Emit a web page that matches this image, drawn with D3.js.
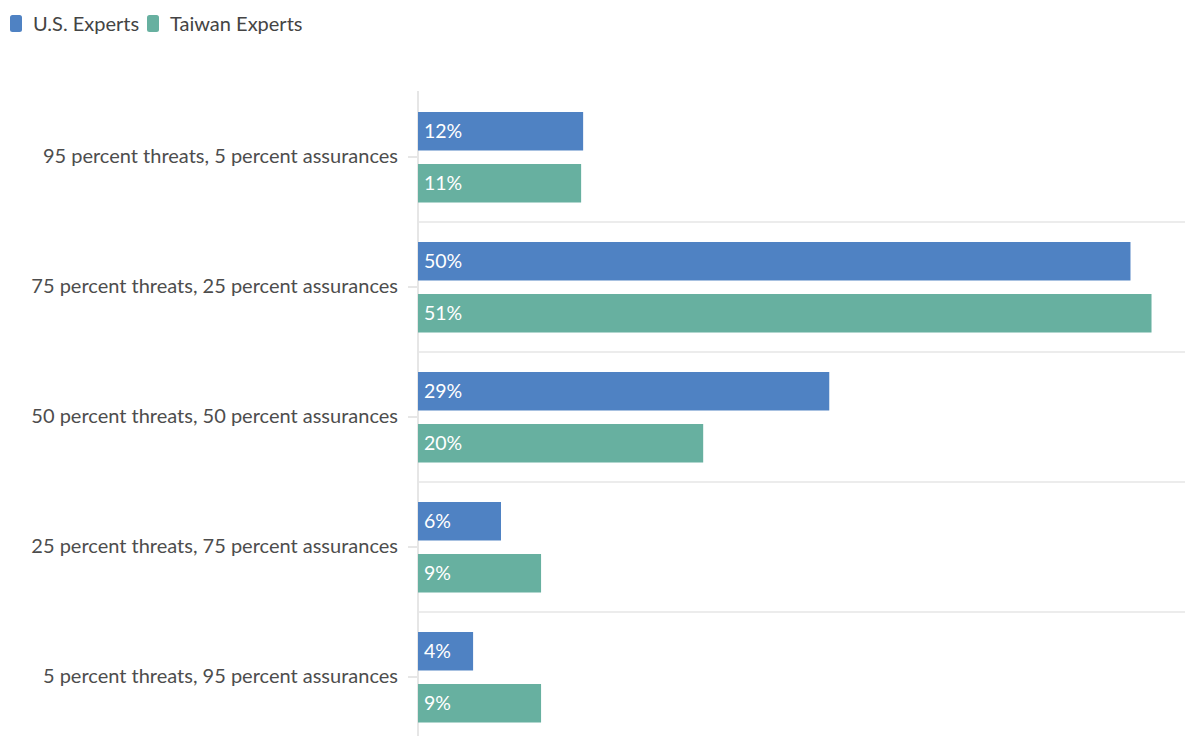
<!DOCTYPE html>
<html>
  <head>
    <meta charset="utf-8">
    <title>Threats and assurances</title>
    <script src="https://d3js.org/d3.v7.min.js"></script>
    <style>
      body { margin: 0; background: #fff; }
      svg text { font-family: "Source Sans Pro", Lato, sans-serif; }
    </style>
  </head>
  <body>
    <div id="chart"></div>
    <script>
      // data (percent of respondents)
      var categories = [
        "95 percent threats, 5 percent assurances",
        "75 percent threats, 25 percent assurances",
        "50 percent threats, 50 percent assurances",
        "25 percent threats, 75 percent assurances",
        "5 percent threats, 95 percent assurances"
      ];
      var seriesNames = ["U.S. Experts", "Taiwan Experts"];
      var usValues = [11.54, 49.79, 28.74, 5.80, 3.85];
      var taiwanValues = [11.40, 51.26, 19.93, 8.60, 8.60];
      var colors = ["#4f82c3", "#67b0a0"];

      var width = 1185, height = 736;
      var svg = d3.select("#chart").append("svg")
        .attr("width", width)
        .attr("height", height);

      // scales
      var x = d3.scaleLinear().domain([0, 53.6]).range([418, 1185]);
      var y = d3.scaleBand().domain(categories).range([92, 742]);
      var ySeries = d3.scaleBand().domain(seriesNames).range([20, 110.5]).paddingInner(0.26);

      // gridlines between categories
      svg.append("g")
        .selectAll("line")
        .data(categories.slice(1))
        .enter().append("line")
          .attr("x1", x(0))
          .attr("x2", width)
          .attr("y1", function(d) { return y(d); })
          .attr("y2", function(d) { return y(d); })
          .attr("stroke", "#ececec")
          .attr("stroke-width", 2);

      // y axis
      var yAxis = svg.append("g")
        .attr("transform", "translate(" + x(0) + ",0)")
        .call(d3.axisLeft(y).tickSize(10).tickPadding(10));
      yAxis.select(".domain")
        .attr("d", "M0,91V" + height)
        .attr("stroke", "#e6e6e6")
        .attr("stroke-width", 2);
      yAxis.selectAll(".tick line")
        .attr("stroke", "#e6e6e6")
        .attr("stroke-width", 2);
      yAxis.selectAll(".tick text")
        .attr("fill", "#4d4d4d")
        .style("font-size", "20px");

      // bars
      var rows = categories.map(function(c, i) {
        return { category: c, values: [usValues[i], taiwanValues[i]] };
      });
      var groups = svg.append("g")
        .selectAll("g")
        .data(rows)
        .enter().append("g")
          .attr("transform", function(d) { return "translate(0," + y(d.category) + ")"; });
      var bars = groups.selectAll("g")
        .data(function(d) { return d.values.map(function(v, j) { return { name: seriesNames[j], value: v, color: colors[j] }; }); })
        .enter().append("g");
      bars.append("rect")
        .attr("x", x(0))
        .attr("y", function(d) { return ySeries(d.name); })
        .attr("width", function(d) { return x(d.value) - x(0); })
        .attr("height", ySeries.bandwidth())
        .attr("fill", function(d) { return d.color; });
      bars.append("text")
        .attr("x", x(0) + 6)
        .attr("y", function(d) { return ySeries(d.name) + ySeries.bandwidth() / 2; })
        .attr("dy", "0.35em")
        .attr("fill", "#fff")
        .style("font-size", "19.5px")
        .text(function(d) { return d3.format(".0f")(d.value) + "%"; });

      // legend
      var legend = svg.append("g")
        .selectAll("g")
        .data(seriesNames)
        .enter().append("g")
          .attr("transform", function(d, i) { return "translate(" + [10, 147][i] + ",0)"; });
      legend.append("rect")
        .attr("y", 15)
        .attr("width", 12)
        .attr("height", 17)
        .attr("rx", 2.5)
        .attr("fill", function(d, i) { return colors[i]; });
      legend.append("text")
        .attr("x", 23)
        .attr("y", 23.5)
        .attr("dy", "0.35em")
        .attr("fill", "#444")
        .style("font-size", "20px")
        .text(function(d) { return d; });
    </script>
  </body>
</html>
